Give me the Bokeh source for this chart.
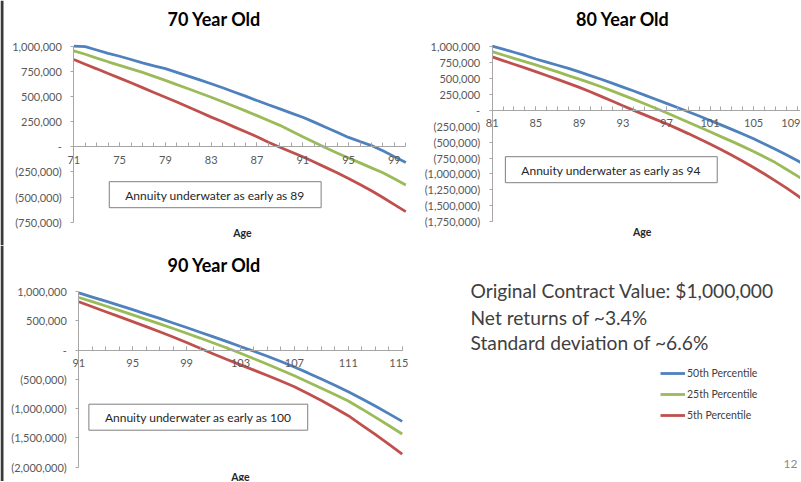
from bokeh.plotting import figure
from bokeh.models import Range1d, FixedTicker, Label, Legend, LegendItem, BoxAnnotation
from bokeh.layouts import row, column
from bokeh.embed import file_html
from bokeh.resources import INLINE

# ---------------- data ----------------
series_names = ["50th Percentile", "25th Percentile", "5th Percentile"]
series_colors = ["#4F81BD", "#9BBB59", "#C0504D"]

ages_70 = list(range(71, 101))
p50_70 = [1000000, 995000, 962000, 928000, 900000, 868000, 835000, 805000, 777000, 740000,
          702000, 665000, 627000, 587000, 545000, 503000, 460000, 418000, 377000, 335000,
          293000, 245000, 195000, 145000, 93000, 52000, 12000, -40000, -98000, -157000]
p25_70 = [953000, 920000, 882000, 845000, 810000, 775000, 740000, 700000, 660000, 618000,
          577000, 535000, 493000, 448000, 403000, 357000, 310000, 262000, 213000, 157000,
          100000, 45000, -10000, -62000, -112000, -160000, -210000, -258000, -318000, -380000]
p5_70 = [867000, 820000, 775000, 728000, 683000, 636000, 588000, 540000, 493000, 445000,
         395000, 345000, 295000, 248000, 198000, 150000, 100000, 45000, -5000, -52000,
         -100000, -152000, -205000, -258000, -315000, -375000, -438000, -505000, -575000, -645000]

ages_80 = list(range(81, 111))
p50_80 = [1000000, 955000, 905000, 855000, 800000, 752000, 702000, 652000, 598000, 540000,
          482000, 422000, 360000, 298000, 235000, 170000, 105000, 40000, -25000, -92000,
          -162000, -232000, -302000, -375000, -450000, -530000, -612000, -698000, -790000,
          -890000]
p25_80 = [914000, 862000, 810000, 758000, 707000, 652000, 597000, 540000, 484000, 425000,
          366000, 300000, 235000, 168000, 100000, 30000, -42000, -115000, -190000, -265000,
          -340000, -415000, -490000, -568000, -648000, -733000, -822000, -925000, -1030000,
          -1140000]
p5_80 = [832000, 775000, 718000, 660000, 602000, 542000, 480000, 418000, 355000, 288000,
         215000, 142000, 68000, -5000, -75000, -145000, -215000, -290000, -368000, -448000,
         -532000, -618000, -707000, -800000, -898000, -1000000, -1107000, -1218000, -1335000,
         -1460000]

ages_90 = list(range(91, 116))
p50_90 = [975000, 905000, 835000, 762000, 690000, 615000, 540000, 462000, 385000, 305000,
          225000, 143000, 60000, -20000, -105000, -195000, -290000, -390000, -495000, -600000,
          -710000, -830000, -955000, -1085000, -1218000]
p25_90 = [898000, 826000, 752000, 678000, 602000, 525000, 447000, 368000, 288000, 205000,
          120000, 35000, -55000, -148000, -243000, -340000, -440000, -545000, -652000, -760000,
          -870000, -1005000, -1145000, -1288000, -1433000]
p5_90 = [824000, 740000, 655000, 570000, 486000, 400000, 312000, 222000, 128000, 30000,
         -68000, -162000, -252000, -343000, -435000, -528000, -626000, -740000, -862000, -990000,
         -1121000, -1280000, -1440000, -1605000, -1775000]

xlabels_70 = [71, 75, 79, 83, 87, 91, 95, 99]
xlabels_80 = [81, 85, 89, 93, 97, 101, 105, 109]
xlabels_90 = [91, 95, 99, 103, 107, 111, 115]

yticks_70 = [-750000, -500000, -250000, 0, 250000, 500000, 750000, 1000000]
yticks_80 = [-1750000, -1500000, -1250000, -1000000, -750000, -500000, -250000, 0,
             250000, 500000, 750000, 1000000]
yticks_90 = [-2000000, -1500000, -1000000, -500000, 0, 500000, 1000000]

titles = ["70 Year Old", "80 Year Old", "90 Year Old"]
notes = ["Annuity underwater as early as 89", "Annuity underwater as early as 94",
         "Annuity underwater as early as 100"]
summary_lines = ["Original Contract Value: $1,000,000", "Net returns  of  ~3.4%",
                 "Standard deviation of ~6.6%"]
page_number = "12"

FONT = "Lato"
AXIS_GRAY = "#A6A6A6"
LABEL_GRAY = "#595959"


def acct(v):
    if v == 0:
        return "-"
    if v < 0:
        return "({:,})".format(-v)
    return "{:,}".format(v)


class Mapper:
    """pixel <-> data mapping for a figure whose frame covers the whole canvas"""
    def __init__(self, w, h, xa, pxa, xb, pxb, ya, pya, yb, pyb):
        self.sx = (pxb - pxa) / (xb - xa)
        self.sy = (pya - pyb) / (yb - ya)
        self.xa, self.pxa, self.ya, self.pya = xa, pxa, ya, pya
        self.w, self.h = w, h

    def x(self, px):
        return self.xa + (px - self.pxa) / self.sx

    def y(self, py):
        return self.ya + (self.pya - py) / self.sy

    def xr(self):
        return Range1d(self.x(0), self.x(self.w))

    def yr(self):
        return Range1d(self.y(self.h), self.y(0))


def make_chart(ages, s50, s25, s5, xlabels, yticks, m, title, title_px, age_px, note,
               note_px, bar=False):
    p = figure(width=m.w, height=m.h, x_range=m.xr(), y_range=m.yr(), output_backend="svg",
               toolbar_location=None, title=None, min_border=0)
    p.outline_line_color = None
    p.xgrid.visible = False
    p.ygrid.visible = False
    for s, c in zip([s50, s25, s5], series_colors):
        p.line(ages, s, line_color=c, line_width=2.8)

    xa = p.xaxis[0]
    xa.fixed_location = 0
    xa.bounds = (ages[0], ages[-1])
    xa.ticker = FixedTicker(ticks=xlabels, minor_ticks=ages)
    xa.axis_line_color = AXIS_GRAY
    xa.major_tick_line_color = AXIS_GRAY
    xa.minor_tick_line_color = AXIS_GRAY
    xa.major_tick_in = 4
    xa.major_tick_out = 0
    xa.minor_tick_in = 4
    xa.minor_tick_out = 0
    xa.major_label_standoff = 9
    xa.major_label_text_font = FONT
    xa.major_label_text_font_size = "11px"
    xa.major_label_text_color = LABEL_GRAY

    ya = p.yaxis[0]
    ya.fixed_location = ages[0]
    ya.bounds = (yticks[0], yticks[-1])
    ya.ticker = FixedTicker(ticks=yticks)
    ya.major_label_overrides = {t: acct(t) for t in yticks}
    ya.axis_line_color = AXIS_GRAY
    ya.major_tick_line_color = AXIS_GRAY
    ya.minor_tick_line_color = None
    ya.major_tick_in = 0
    ya.major_tick_out = 3
    ya.major_label_standoff = 9
    ya.major_label_text_font = FONT
    ya.major_label_text_font_size = "11px"
    ya.major_label_text_color = LABEL_GRAY

    p.add_layout(Label(x=m.x(title_px[0]), y=m.y(title_px[1]), text=title, text_align="center",
                       text_baseline="middle", text_font=FONT, text_font_size="18px",
                       text_font_style="bold", text_color="#000000"))
    p.add_layout(Label(x=m.x(age_px[0]), y=m.y(age_px[1]), text="Age", text_align="center",
                       text_baseline="middle", text_font=FONT, text_font_size="10.5px",
                       text_font_style="bold", text_color="#262626"))
    p.add_layout(Label(x=m.x(note_px[0]), y=m.y(note_px[1]), text=note, text_align="center",
                       text_baseline="middle", text_font=FONT, text_font_size="12px",
                       text_color="#262626", border_line_color="#7F7F7F", border_line_width=1,
                       background_fill_color="#FFFFFF",
                       padding=dict(left=16, right=16, top=6, bottom=5)))
    if bar:
        p.add_layout(BoxAnnotation(left=m.x(0), right=m.x(3), fill_color="#3a3a3a",
                                   fill_alpha=1, line_color=None))
    return p


m1 = Mapper(408, 245, 71, 73.3, 100, 405.3, -750000, 221.7, 1000000, 45.7)
m2 = Mapper(392, 245, 81, 83.7, 109, 388.7, -1750000, 221.4, 1000000, 45.7)
m3 = Mapper(408, 236, 91, 78.3, 115, 401.7, -2000000, 221.7, 1000000, 46.0)

p1 = make_chart(ages_70, p50_70, p25_70, p5_70, xlabels_70, yticks_70, m1, titles[0],
                (214, 18), (242, 232), notes[0], (214.7, 194.2), bar=True)
p2 = make_chart(ages_80, p50_80, p25_80, p5_80, xlabels_80, yticks_80, m2, titles[1],
                (214.5, 18), (233.7, 231.7), notes[1], (202.8, 169.2))
p3 = make_chart(ages_90, p50_90, p25_90, p5_90, xlabels_90, yticks_90, m3, titles[2],
                (214, 19.5), (240, 231), notes[2], (197.8, 171.7), bar=True)

# ---------------- text / legend panel ----------------
W4, H4 = 392, 236
p4 = figure(width=W4, height=H4, x_range=Range1d(0, W4), y_range=Range1d(0, H4),
            output_backend="svg", toolbar_location=None, title=None,
            x_axis_location=None, y_axis_location=None, min_border=0)
p4.outline_line_color = None
p4.xgrid.visible = False
p4.ygrid.visible = False
for line_text, py in zip(summary_lines, [45, 71.7, 96.7]):
    p4.add_layout(Label(x=62, y=H4 - py, text=line_text, text_align="left",
                        text_baseline="middle", text_font=FONT, text_font_size="19.2px",
                        text_color="#404040"))
p4.add_layout(Label(x=389, y=H4 - 218, text=page_number, text_align="right",
                    text_baseline="middle", text_font=FONT, text_font_size="12px",
                    text_color="#8C8C8C"))

items = []
for name, c in zip(series_names, series_colors):
    r = p4.line(x=[float("nan")], y=[float("nan")], line_color=c, line_width=2.8)
    items.append(LegendItem(label=name, renderers=[r]))
legend = Legend(items=items, location=(252, 56), glyph_width=25, glyph_height=20,
                label_height=20, spacing=1, padding=0, margin=0, label_standoff=2,
                border_line_color=None, background_fill_alpha=0,
                label_text_font=FONT, label_text_font_size="10.5px",
                label_text_color="#404040")
p4.add_layout(legend)

layout = column(row(p1, p2), row(p3, p4))
open("out.html", "w").write(file_html(layout, INLINE))
